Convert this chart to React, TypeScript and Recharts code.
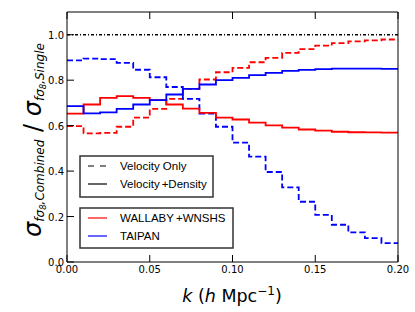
import { LineChart, Line, XAxis, YAxis, ReferenceLine } from "recharts";

// bin edges in k (h/Mpc); last point repeats the final bin so the step reaches 0.20
const kValues = [
  0, 0.01, 0.02, 0.03, 0.04, 0.05, 0.06, 0.07, 0.08, 0.09, 0.1,
  0.11, 0.12, 0.13, 0.14, 0.15, 0.16, 0.17, 0.18, 0.19, 0.2,
];

const wallabyVelDen = [
  0.653, 0.693, 0.722, 0.73, 0.722, 0.712, 0.693, 0.675, 0.656, 0.635, 0.627,
  0.613, 0.601, 0.591, 0.583, 0.578, 0.573, 0.571, 0.57, 0.569, 0.569,
];
const taipanVelDen = [
  0.686, 0.654, 0.658, 0.674, 0.693, 0.712, 0.737, 0.762, 0.781, 0.8, 0.81,
  0.822, 0.832, 0.841, 0.845, 0.849, 0.851, 0.851, 0.851, 0.85, 0.85,
];
const wallabyVel = [
  0.598, 0.566, 0.568, 0.595, 0.635, 0.674, 0.718, 0.762, 0.803, 0.835, 0.854,
  0.879, 0.898, 0.92, 0.937, 0.952, 0.963, 0.971, 0.975, 0.979, 0.979,
];
const taipanVel = [
  0.887, 0.895, 0.893, 0.876, 0.846, 0.813, 0.77, 0.718, 0.653, 0.595, 0.525,
  0.464, 0.396, 0.328, 0.265, 0.207, 0.164, 0.13, 0.105, 0.083, 0.083,
];

const xTicks = [0, 0.05, 0.1, 0.15, 0.2];
const yTicks = [0, 0.2, 0.4, 0.6, 0.8, 1.0];

const data = kValues.map((k, i) => ({
  k,
  wallabyVelDen: wallabyVelDen[i],
  taipanVelDen: taipanVelDen[i],
  wallabyVel: wallabyVel[i],
  taipanVel: taipanVel[i],
}));

const tickFont = "DejaVu Sans";
const TICK_LEN = 7;

function BottomTick(props: any) {
  const { x, y, payload } = props;
  return (
    <g>
      <line x1={x} x2={x} y1={y} y2={y - TICK_LEN} stroke="#000" />
      <text x={x} y={y + 11} textAnchor="middle" fontSize={10} fontFamily={tickFont} fill="#000">
        {payload.value.toFixed(2)}
      </text>
    </g>
  );
}

function TopTick(props: any) {
  const { x, y } = props;
  return <line x1={x} x2={x} y1={y} y2={y + TICK_LEN} stroke="#000" />;
}

function LeftTick(props: any) {
  const { x, y, payload } = props;
  return (
    <g>
      <line x1={x} x2={x + TICK_LEN} y1={y} y2={y} stroke="#000" />
      <text x={x - 3} y={y + 4} textAnchor="end" fontSize={10} fontFamily={tickFont} fill="#000">
        {payload.value.toFixed(1)}
      </text>
    </g>
  );
}

function RightTick(props: any) {
  const { x, y } = props;
  return <line x1={x} x2={x - TICK_LEN} y1={y} y2={y} stroke="#000" />;
}

const legendFont = "Liberation Sans";

export default function App() {
  return (
    <div style={{ position: "absolute", left: 0, top: 0, width: 415, height: 312, background: "#fff" }}>
      <LineChart
        width={415}
        height={312}
        data={data}
        margin={{ top: 7, right: 7, bottom: 20, left: 27 }}
      >
        <XAxis
          xAxisId="b"
          dataKey="k"
          type="number"
          domain={[0, 0.2]}
          ticks={xTicks}
          height={30}
          tickSize={0}
          tickMargin={0}
          tickLine={false}
          axisLine={{ stroke: "#000" }}
          tick={<BottomTick />}
          interval={0}
        />
        <XAxis
          xAxisId="t"
          orientation="top"
          dataKey="k"
          type="number"
          domain={[0, 0.2]}
          ticks={xTicks}
          height={5}
          tickSize={0}
          tickMargin={0}
          tickLine={false}
          axisLine={{ stroke: "#000" }}
          tick={<TopTick />}
          interval={0}
        />
        <YAxis
          yAxisId="l"
          type="number"
          domain={[0, 1.1]}
          ticks={yTicks}
          width={40}
          tickSize={0}
          tickMargin={0}
          tickLine={false}
          axisLine={{ stroke: "#000" }}
          tick={<LeftTick />}
          interval={0}
        />
        <YAxis
          yAxisId="r"
          orientation="right"
          type="number"
          domain={[0, 1.1]}
          ticks={yTicks}
          width={10}
          tickSize={0}
          tickMargin={0}
          tickLine={false}
          axisLine={{ stroke: "#000" }}
          tick={<RightTick />}
          interval={0}
        />
        <ReferenceLine
          xAxisId="b"
          yAxisId="l"
          y={1}
          stroke="#000"
          strokeWidth={1.3}
          strokeDasharray="3 2 1 2"
        />
        <Line
          xAxisId="b"
          yAxisId="l"
          type="stepAfter"
          dataKey="wallabyVel"
          stroke="#ff0000"
          strokeWidth={1.8}
          strokeDasharray="6 3"
          dot={false}
          isAnimationActive={false}
        />
        <Line
          xAxisId="b"
          yAxisId="l"
          type="stepAfter"
          dataKey="taipanVel"
          stroke="#0000ff"
          strokeWidth={1.8}
          strokeDasharray="6 3"
          dot={false}
          isAnimationActive={false}
        />
        <Line
          xAxisId="b"
          yAxisId="l"
          type="stepAfter"
          dataKey="wallabyVelDen"
          stroke="#ff0000"
          strokeWidth={1.8}
          dot={false}
          isAnimationActive={false}
        />
        <Line
          xAxisId="b"
          yAxisId="l"
          type="stepAfter"
          dataKey="taipanVelDen"
          stroke="#0000ff"
          strokeWidth={1.8}
          dot={false}
          isAnimationActive={false}
        />
      </LineChart>
      <svg
        width={415}
        height={312}
        style={{ position: "absolute", left: 0, top: 0, pointerEvents: "none" }}
      >
        {/* axis titles */}
        <text
          x={232}
          y={302}
          textAnchor="middle"
          fontSize={17.5}
          fontFamily="DejaVu Sans"
          fill="#000"
        >
          <tspan fontStyle="italic">k</tspan>
          <tspan> (</tspan>
          <tspan fontStyle="italic">h</tspan>
          <tspan> Mpc</tspan>
          <tspan fontSize={12} dy={-7}>−1</tspan>
          <tspan dy={7}>)</tspan>
        </text>
        <text
          transform="translate(41,140) rotate(-90)"
          textAnchor="middle"
          fontFamily="DejaVu Sans"
          fill="#000"
        >
          <tspan fontSize={24} fontStyle="italic">σ</tspan>
          <tspan fontSize={12} fontStyle="italic" dy={3}>fσ</tspan>
          <tspan fontSize={8.5} fontStyle="italic" dy={2}>8</tspan>
          <tspan fontSize={12} fontStyle="italic" dy={-2}>,Combined</tspan>
          <tspan fontSize={24} dy={-3}> / </tspan>
          <tspan fontSize={24} fontStyle="italic">σ</tspan>
          <tspan fontSize={12} fontStyle="italic" dy={3}>fσ</tspan>
          <tspan fontSize={8.5} fontStyle="italic" dy={2}>8</tspan>
          <tspan fontSize={12} fontStyle="italic" dy={-2}>,Single</tspan>
        </text>

        {/* line-style legend */}
        <rect x={80} y={156} width={133} height={41} fill="#fff" stroke="#333" strokeWidth={1.5} />
        <line x1={88} x2={106} y1={166} y2={166} stroke="#000" strokeWidth={1.2} strokeDasharray="6 6" />
        <text x={120} y={170} fontSize={11.5} fontFamily={legendFont} fill="#000">Velocity Only</text>
        <line x1={88} x2={107} y1={184} y2={184} stroke="#000" strokeWidth={1.2} />
        <text x={120} y={188} fontSize={11.5} fontFamily={legendFont} fill="#000">
          <tspan>Velocity</tspan>
          <tspan dx={2}>+</tspan>
          <tspan>Density</tspan>
        </text>

        {/* survey legend */}
        <rect x={80} y={208} width={153} height={40} fill="#fff" stroke="#333" strokeWidth={1.5} />
        <line x1={88} x2={107} y1={218} y2={218} stroke="#ff0000" strokeWidth={1.2} />
        <text x={120} y={222} fontSize={11.5} fontFamily={legendFont} fill="#000">
          <tspan>WALLABY</tspan>
          <tspan dx={2}>+</tspan>
          <tspan>WNSHS</tspan>
        </text>
        <line x1={88} x2={107} y1={236} y2={236} stroke="#0000ff" strokeWidth={1.2} />
        <text x={120} y={240} fontSize={11.5} fontFamily={legendFont} fill="#000">TAIPAN</text>
      </svg>
    </div>
  );
}
